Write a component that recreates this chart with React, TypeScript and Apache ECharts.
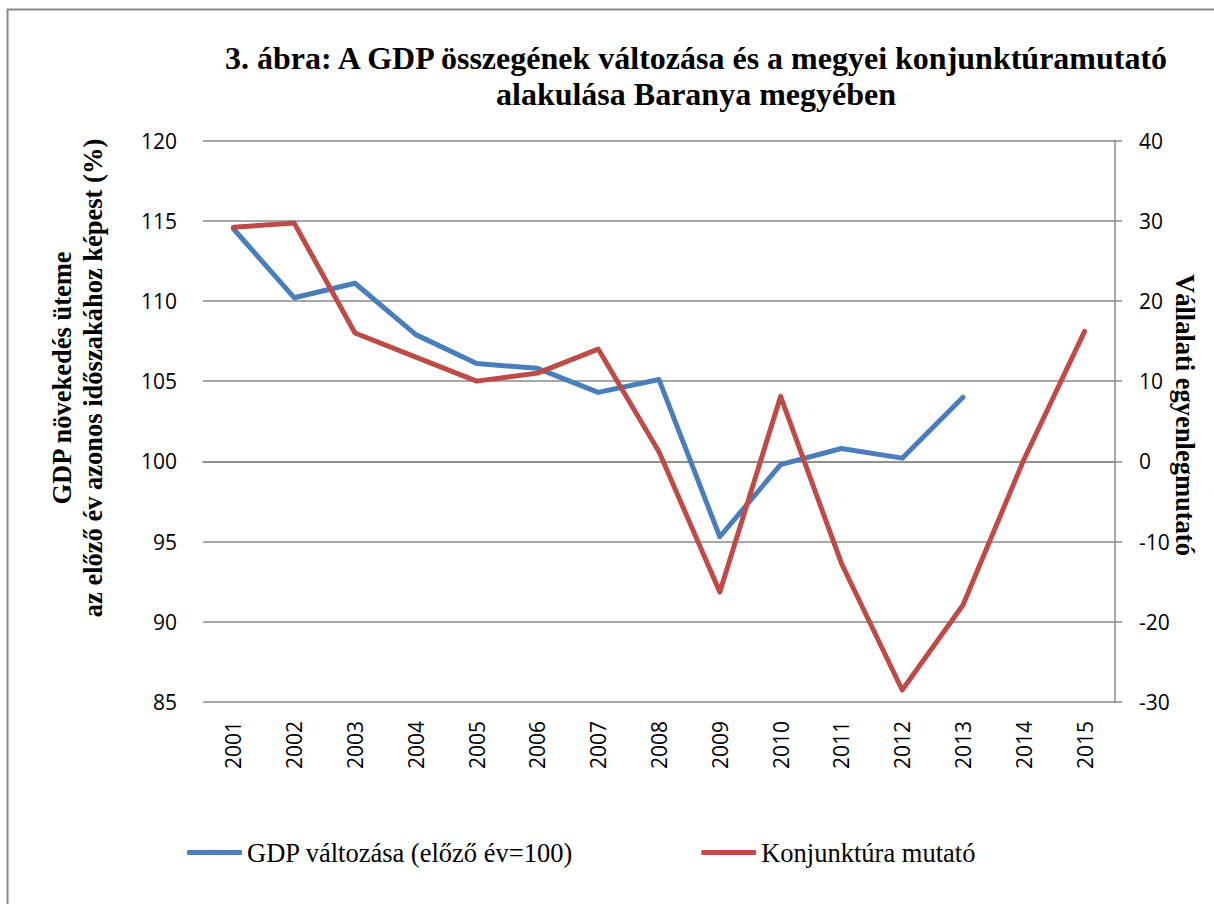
import React, { useEffect, useRef } from "react";
import * as echarts from "echarts";

const years = ["2001", "2002", "2003", "2004", "2005", "2006", "2007", "2008", "2009", "2010", "2011", "2012", "2013", "2014", "2015"];
const gdpChange = [114.5, 110.2, 111.1, 107.9, 106.1, 105.8, 104.3, 105.1, 95.3, 99.8, 100.8, 100.2, 104.0, null, null];
const konjunktura = [29.2, 29.7, 16.0, 13.0, 10.0, 11.0, 14.0, 1.2, -16.3, 8.1, -12.7, -28.5, -17.9, 0.2, 16.2];
const seriesNames = ["GDP változása (előző év=100)", "Konjunktúra mutató"];
const titleText = "3. ábra: A GDP összegének változása és a megyei konjunktúramutató\nalakulása Baranya megyében";
const leftAxisTitle = "GDP növekedés üteme\naz előző év azonos időszakához képest (%)";
const rightAxisTitle = "Vállalati egyenlegmutató";

export default function App() {
  const ref = useRef<HTMLDivElement>(null);
  useEffect(() => {
    document.body.style.margin = "0";
    if (!ref.current) return;
    const chart = echarts.init(ref.current, null, { renderer: "svg" });
    const serif = "'Liberation Serif', 'Times New Roman', serif";
    const sans = "'Open Sans', 'Noto Sans', sans-serif";
    const gridColor = "#8a8a8a";
    chart.setOption({
      animation: false,
      backgroundColor: "#ffffff",
      title: {
        text: titleText,
        left: 691,
        top: 35,
        textAlign: "center",
        textStyle: { fontFamily: serif, fontWeight: "bold", fontSize: 32, lineHeight: 36, color: "#000" },
      },
      legend: {
        left: 182,
        top: 834,
        icon: "roundRect",
        itemWidth: 55,
        itemHeight: 5,
        itemGap: 128,
        textStyle: { fontFamily: serif, fontSize: 26.5, color: "#000" },
        data: seriesNames,
      },
      grid: { left: 203, right: 99, top: 140.5, bottom: 202, containLabel: false },
      xAxis: {
        type: "category",
        data: years,
        boundaryGap: true,
        axisLine: { show: true, lineStyle: { color: gridColor, width: 1.5 } },
        axisTick: { show: false },
        axisLabel: { rotate: 90, margin: 19, fontFamily: sans, fontSize: 21, color: "#000" },
      },
      yAxis: [
        {
          type: "value",
          min: 85,
          max: 120,
          interval: 5,
          axisLine: { show: false },
          axisTick: { show: false },
          splitLine: { show: true, lineStyle: { color: gridColor, width: 1.5 } },
          axisLabel: { margin: 26, fontFamily: sans, fontSize: 21, color: "#000" },
        },
        {
          type: "value",
          position: "right",
          min: -30,
          max: 40,
          interval: 10,
          axisLine: { show: true, lineStyle: { color: gridColor, width: 1.5 } },
          axisTick: { show: true, inside: false, length: 7, lineStyle: { color: gridColor, width: 1.5 } },
          splitLine: { show: false },
          axisLabel: { margin: 24, fontFamily: sans, fontSize: 21, color: "#000" },
        },
      ],
      graphic: [
        { type: "line", shape: { x1: 7.5, y1: 9, x2: 7.5, y2: 904 }, style: { stroke: "#8a8a8a", lineWidth: 2 } },
        { type: "line", shape: { x1: 7, y1: 9.5, x2: 1214, y2: 9.5 }, style: { stroke: "#8a8a8a", lineWidth: 2 } },
        {
          type: "text",
          x: 77,
          y: 378,
          rotation: Math.PI / 2,
          style: {
            text: leftAxisTitle,
            align: "center",
            verticalAlign: "middle",
            fontFamily: serif,
            fontWeight: "bold",
            fontSize: 26.5,
            lineHeight: 31,
            fill: "#000",
          },
        },
        {
          type: "text",
          x: 1185,
          y: 415,
          rotation: -Math.PI / 2,
          style: {
            text: rightAxisTitle,
            align: "center",
            verticalAlign: "middle",
            fontFamily: serif,
            fontWeight: "bold",
            fontSize: 26.5,
            fill: "#000",
          },
        },
      ],
      series: [
        {
          name: seriesNames[0],
          type: "line",
          yAxisIndex: 0,
          data: gdpChange,
          symbol: "none",
          lineStyle: { color: "#4a7ebb", width: 5, cap: "round", join: "round" },
          itemStyle: { color: "#4a7ebb" },
        },
        {
          name: seriesNames[1],
          type: "line",
          yAxisIndex: 1,
          data: konjunktura,
          symbol: "none",
          lineStyle: { color: "#be4b48", width: 5, cap: "round", join: "round" },
          itemStyle: { color: "#be4b48" },
        },
      ],
    });
    return () => chart.dispose();
  }, []);
  return <div ref={ref} style={{ width: 1214, height: 904 }} />;
}
